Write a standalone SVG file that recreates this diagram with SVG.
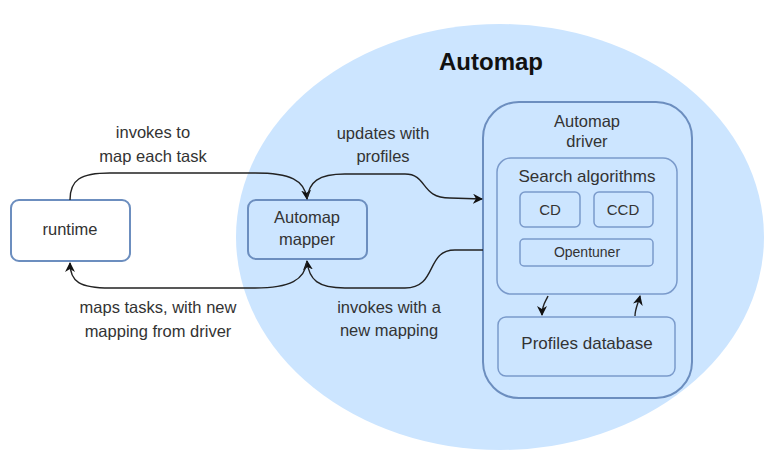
<svg xmlns="http://www.w3.org/2000/svg" width="770" height="470" viewBox="0 0 770 470">
<style>
.box{fill:#ffffff;stroke:#6c8ebf;stroke-width:2}
.bb{fill:#cce5ff;stroke:#6c8ebf;stroke-width:2}
.in{fill:#cce5ff;stroke:#7a9acb;stroke-width:1.5}
.t{font-family:"Liberation Sans",Arial,sans-serif;font-size:16.5px;fill:#333;text-anchor:middle}
.c{fill:none;stroke:#222;stroke-width:1.4}
</style>
<defs>
<marker id="ah" viewBox="0 0 10 10" refX="9" refY="5" markerWidth="10" markerHeight="10" orient="auto" markerUnits="userSpaceOnUse">
<path d="M0,0 L10,5 L0,10 L3,5 Z" fill="#111"/>
</marker>
</defs>
<rect width="770" height="470" fill="#fff"/>
<g id="automap">
<ellipse cx="500" cy="237" rx="264" ry="213" fill="#cce5ff"/>
<text x="491" y="70" class="t" style="font-size:24px;font-weight:bold;fill:#111">Automap</text>
</g>
<g id="runtime">
<rect x="11" y="200" width="119" height="61" rx="8" class="box"/>
<text x="70" y="235" class="t">runtime</text>
</g>
<g id="mapper">
<rect x="248" y="200" width="119" height="59" rx="8" class="bb"/>
<text x="307" y="223" class="t">Automap</text>
<text x="307" y="245" class="t">mapper</text>
</g>
<g id="driver">
<rect x="483" y="102" width="209" height="296" rx="36" class="bb"/>
<text x="587" y="127" class="t">Automap</text>
<text x="587" y="147" class="t">driver</text>
</g>
<g id="search">
<rect x="497" y="158" width="180" height="136" rx="14" class="in"/>
<text x="587" y="182" class="t" style="font-size:17px">Search algorithms</text>
</g>
<g id="cd">
<rect x="520" y="192" width="60" height="35" rx="5" class="in"/>
<text x="550" y="215" class="t" style="font-size:15px">CD</text>
</g>
<g id="ccd">
<rect x="594" y="192" width="59" height="35" rx="5" class="in"/>
<text x="623" y="215" class="t" style="font-size:15px">CCD</text>
</g>
<g id="opentuner">
<rect x="520" y="239" width="133" height="27" rx="4" class="in"/>
<text x="587" y="257" class="t" style="font-size:14px">Opentuner</text>
</g>
<g id="profiles">
<rect x="498" y="317" width="177" height="59" rx="8" class="in"/>
<text x="587" y="349" class="t" style="font-size:17px">Profiles database</text>
</g>
<g id="connectors">
<path class="c" marker-end="url(#ah)" d="M70,200 C70,180 80,173 110,173 L255,173 C290,173 305,180 307,199"/>
<path class="c" marker-end="url(#ah)" d="M307,199 C309,182 318,174 345,174 L405,174 C428,174 420,198 450,198 L482,199"/>
<path class="c" marker-end="url(#ah)" d="M483,250 L455,250 C425,250 438,288 405,288 L345,288 C318,288 309,280 307,261"/>
<path class="c" marker-end="url(#ah)" d="M307,261 C305,280 290,288 255,288 L110,288 C80,288 70,282 70,263"/>
<path class="c" marker-end="url(#ah)" d="M548,296 C546,301 542,304 542,315"/>
<path class="c" marker-end="url(#ah)" d="M635,316 C635,309 638,304 640,296"/>
</g>
<g id="labels">
<text x="153" y="138" class="t">invokes to</text>
<text x="153" y="162" class="t">map each task</text>
<text x="383" y="139" class="t">updates with</text>
<text x="383" y="162" class="t">profiles</text>
<text x="158" y="313" class="t">maps tasks, with new</text>
<text x="158" y="337" class="t">mapping from driver</text>
<text x="389" y="313" class="t">invokes with a</text>
<text x="389" y="336" class="t">new mapping</text>
</g>
</svg>
